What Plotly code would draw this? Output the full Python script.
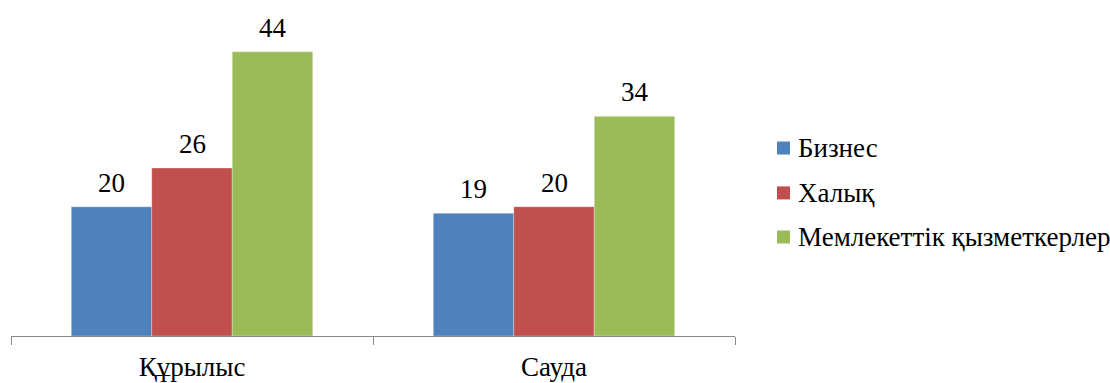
import plotly.graph_objects as go

categories = ["Құрылыс", "Сауда"]
series_names = ["Бизнес", "Халық", "Мемлекеттік қызметкерлер"]
biznes = [20, 19]
halyk = [26, 20]
memleket = [44, 34]
colors = ["#4F81BD", "#C0504D", "#9BBB59"]

values = [biznes, halyk, memleket]
FONT = "Liberation Serif"
FS = 27

fig = go.Figure()
for i, (name, vals) in enumerate(zip(series_names, values)):
    fig.add_trace(go.Bar(
        x=categories, y=vals, name=name, showlegend=False,
        marker=dict(color=colors[i], line=dict(color="rgba(255,255,255,0.6)", width=0.5)),
        hoverinfo="skip",
    ))

# value labels above the bars
bar_px = 80.5
for i, vals in enumerate(values):
    for c, v in zip(categories, vals):
        fig.add_annotation(x=c, y=v, text=str(v), showarrow=False,
                           xshift=(i - 1) * bar_px, yshift=24, yanchor="middle",
                           font=dict(family=FONT, size=FS, color="black"))

# legend (drawn as shapes + annotations, to match the original spacing)
leg_x = 1.058           # paper x of square's left edge
leg_ys = [0.582, 0.443, 0.3065]
for name, col, ly in zip(series_names, colors, leg_ys):
    fig.add_shape(type="rect", xref="paper", yref="paper",
                  xsizemode="pixel", ysizemode="pixel",
                  xanchor=leg_x, yanchor=ly, x0=0, x1=13, y0=-6.5, y1=6.5,
                  fillcolor=col, line=dict(width=0))
    fig.add_annotation(xref="paper", yref="paper", x=leg_x, y=ly, xshift=19,
                       xanchor="left", yanchor="middle", text=name, showarrow=False,
                       font=dict(family=FONT, size=FS, color="black"))

fig.update_layout(
    width=1110, height=383,
    margin=dict(l=11, r=375, t=13, b=47, autoexpand=False),
    paper_bgcolor="white", plot_bgcolor="white",
    barmode="group", bargap=0.333, bargroupgap=0,
    font=dict(family=FONT, size=FS, color="black"),
    showlegend=False,
    xaxis=dict(type="category", range=[-0.5, 1.5], showline=True, linecolor="#888888",
               linewidth=1, ticks="outside", tickson="boundaries", ticklen=8,
               tickcolor="#888888", tickwidth=1, showgrid=False, ticklabelstandoff=7,
               automargin=False,
               tickfont=dict(family=FONT, size=FS, color="black")),
    yaxis=dict(range=[0, 50], visible=False, showgrid=False, zeroline=False,
               automargin=False),
)

fig.write_html("out.html")
